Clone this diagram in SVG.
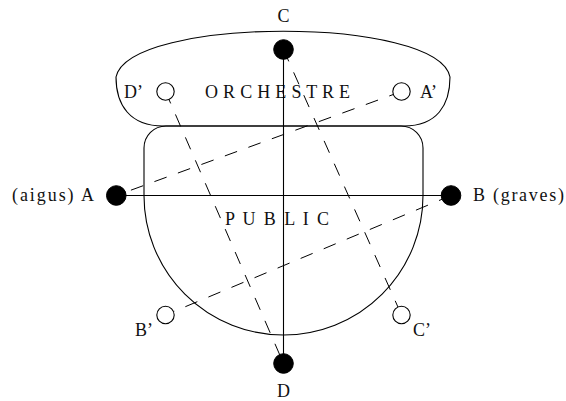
<svg xmlns="http://www.w3.org/2000/svg" width="566" height="401" viewBox="0 0 566 401">
<style>
.shape{fill:none;stroke:#000;stroke-width:1.1}
.solid{fill:none;stroke:#000;stroke-width:1.1}
.dash{fill:none;stroke:#000;stroke-width:1;stroke-dasharray:13 12}
.full{fill:#000;stroke:#000;stroke-width:1}
.open{fill:#fff;stroke:#000;stroke-width:1.1}
.lbl{font-family:'Liberation Serif','DejaVu Serif',serif;font-size:18px;fill:#111}
</style>
<rect width="566" height="401" fill="#fff"/>
<g id="orchestre">
<path class="shape" d="M163,126 L404,126 C437,126 450,105 450,77 C438,16 129,16 116,77 C116,105 130,126 163,126 Z"/>
<text class="lbl" font-family="Liberation Serif, serif" x="205" y="98" textLength="145" lengthAdjust="spacing">O R C H E S T R E</text>
</g>
<g id="public">
<path class="shape" d="M166,126 L401,126 A22,22 0 0 1 423,148 L423,195.5 A139.5,139.5 0 0 1 144,195.5 L144,148 A22,22 0 0 1 166,126 Z"/>
<text class="lbl" font-family="Liberation Serif, serif" x="225" y="225" textLength="104" lengthAdjust="spacing">P U B L I C</text>
</g>
<g id="connectors">
<line class="solid" x1="116.3" y1="195.5" x2="451" y2="195.5"/>
<line class="solid" x1="283.5" y1="49.5" x2="283.5" y2="363.5"/>
<line class="dash" x1="165.5" y1="91.5" x2="283.5" y2="363.5"/>
<line class="dash" x1="283.5" y1="49.5" x2="401.5" y2="315"/>
<line class="dash" x1="401.5" y1="91.5" x2="116.3" y2="195.5"/>
<line class="dash" x1="451" y1="195.5" x2="165.5" y2="315"/>
</g>
<g id="node-A">
<circle class="full" cx="116.3" cy="195.5" r="9.8"/>
<text class="lbl" font-family="Liberation Serif, serif" x="94" y="201" text-anchor="end" textLength="82" lengthAdjust="spacing">(aigus) A</text>
</g>
<g id="node-B">
<circle class="full" cx="451" cy="195.5" r="9.8"/>
<text class="lbl" font-family="Liberation Serif, serif" x="473" y="201" textLength="91" lengthAdjust="spacing">B (graves)</text>
</g>
<g id="node-C">
<circle class="full" cx="283.5" cy="49.5" r="9.8"/>
<text class="lbl" font-family="Liberation Serif, serif" x="283.5" y="22" text-anchor="middle">C</text>
</g>
<g id="node-D">
<circle class="full" cx="283.5" cy="363.5" r="9.8"/>
<text class="lbl" font-family="Liberation Serif, serif" x="283.5" y="397" text-anchor="middle">D</text>
</g>
<g id="node-Dp">
<circle class="open" cx="165.5" cy="91.5" r="8.7"/>
<text class="lbl" font-family="Liberation Serif, serif" x="143" y="98" text-anchor="end">D’</text>
</g>
<g id="node-Ap">
<circle class="open" cx="401.5" cy="91.5" r="8.7"/>
<text class="lbl" font-family="Liberation Serif, serif" x="420" y="98">A’</text>
</g>
<g id="node-Bp">
<circle class="open" cx="165.5" cy="315" r="8.7"/>
<text class="lbl" font-family="Liberation Serif, serif" x="153" y="336" text-anchor="end">B’</text>
</g>
<g id="node-Cp">
<circle class="open" cx="401.5" cy="315" r="8.7"/>
<text class="lbl" font-family="Liberation Serif, serif" x="413" y="336">C’</text>
</g>
</svg>
